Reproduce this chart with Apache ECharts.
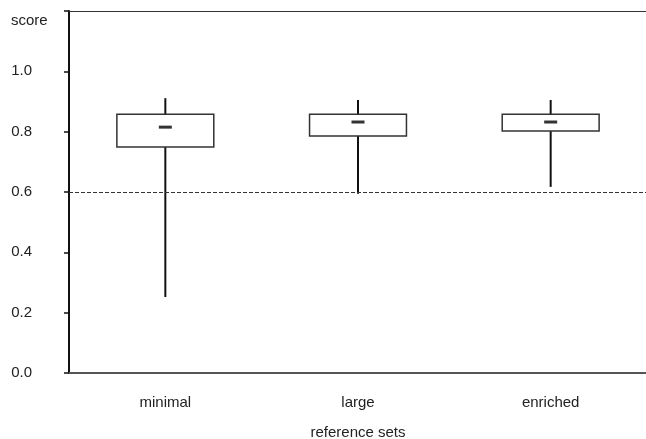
<!DOCTYPE html>
<html>
<head>
<meta charset="utf-8">
<script src="https://cdn.jsdelivr.net/npm/echarts@6/dist/echarts.min.js"></script>
<style>html,body{margin:0;padding:0;background:#fff;}#c{width:646px;height:439px;}</style>
</head>
<body>
<div id="c"></div>
<script>
var categories = ['minimal', 'large', 'enriched'];
var whiskerLow = [0.252, 0.594, 0.617];
var boxLow = [0.749, 0.786, 0.802];
var medians = [0.815, 0.832, 0.832];
var boxHigh = [0.858, 0.858, 0.858];
var whiskerHigh = [0.911, 0.905, 0.905];
var thresholdValue = 0.6;

var FONT = '"Liberation Sans", Arial, sans-serif';
var data = categories.map(function (c, i) {
  return [i, whiskerLow[i], boxLow[i], medians[i], boxHigh[i], whiskerHigh[i]];
});

var chart = echarts.init(document.getElementById('c'), null, {renderer: 'canvas'});
chart.setOption({
  animation: false,
  backgroundColor: '#fff',
  graphic: [{
    type: 'text', left: 11, top: 13,
    style: {text: 'score', font: '15px ' + FONT, fill: '#222'}
  }],
  grid: {left: 69, right: -1, top: 11, bottom: 66, containLabel: false, outerBoundsMode: 'none'},
  xAxis: [{
    type: 'category', data: categories, position: 'bottom',
    axisLine: {show: true, lineStyle: {color: '#555', width: 2}},
    axisTick: {show: false},
    axisLabel: {margin: 22, color: '#222', fontSize: 15, fontFamily: FONT},
    name: 'reference sets', nameLocation: 'middle', nameGap: 52,
    nameTextStyle: {color: '#222', fontSize: 15, fontFamily: FONT},
    splitLine: {show: false}
  }, {
    type: 'category', data: categories, position: 'top',
    axisLine: {show: true, lineStyle: {color: '#333', width: 1.2}},
    axisTick: {show: false}, axisLabel: {show: false}, splitLine: {show: false}
  }],
  yAxis: {
    type: 'value', min: 0, max: 1.2, interval: 0.2,
    axisLine: {show: true, lineStyle: {color: '#111', width: 2}},
    axisTick: {show: true, inside: false, length: 5, lineStyle: {color: '#111', width: 1.5}},
    axisLabel: {
      margin: 37, color: '#222', fontSize: 15, fontFamily: FONT,
      formatter: function (v) { return v > 1.1 ? '' : v.toFixed(1); }
    },
    splitLine: {show: false}
  },
  series: [{
    type: 'custom',
    data: data,
    encode: {x: 0, y: [1, 2, 3, 4, 5]},
    renderItem: function (params, api) {
      var idx = api.value(0);
      var band = api.size([1, 0])[0];
      var bw = band * 0.503;
      var pLow = api.coord([idx, api.value(1)]);
      var pQ1 = api.coord([idx, api.value(2)]);
      var pMed = api.coord([idx, api.value(3)]);
      var pQ3 = api.coord([idx, api.value(4)]);
      var pHigh = api.coord([idx, api.value(5)]);
      var x = pQ1[0];
      return {
        type: 'group',
        children: [
          {type: 'line', shape: {x1: x, y1: pLow[1], x2: x, y2: pQ1[1]},
            style: {stroke: '#111', lineWidth: 2}},
          {type: 'line', shape: {x1: x, y1: pQ3[1], x2: x, y2: pHigh[1]},
            style: {stroke: '#111', lineWidth: 2}},
          {type: 'rect', shape: {x: x - bw / 2, y: pQ3[1], width: bw, height: pQ1[1] - pQ3[1]},
            style: {fill: '#fff', stroke: '#333', lineWidth: 1.5}},
          {type: 'line', shape: {x1: x - 6.5, y1: pMed[1], x2: x + 6.5, y2: pMed[1]},
            style: {stroke: '#333', lineWidth: 3}}
        ]
      };
    },
    markLine: {
      silent: true, symbol: 'none',
      label: {show: false},
      lineStyle: {color: '#333', width: 1, type: [4, 2]},
      data: [{yAxis: thresholdValue}]
    },
    z: 2
  }]
});
</script>
</body>
</html>
